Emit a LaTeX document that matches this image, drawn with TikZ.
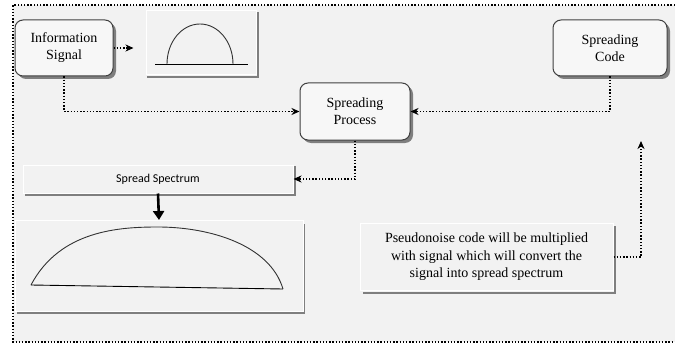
\documentclass[tikz,border=0pt]{standalone}
\usepackage{fontspec}
\setmainfont{Liberation Serif}
\newfontfamily\calib{Carlito}
\usetikzlibrary{arrows.meta,calc}
\definecolor{bgc}{HTML}{F2F2F2}
\definecolor{shd}{HTML}{7F7F7F}
\definecolor{edge}{HTML}{404040}
\begin{document}
\begin{tikzpicture}[x=1pt,y=-1pt,
  rbox/.style={draw=edge,line width=1pt,rounded corners=8pt,fill=bgc!60!white,
    minimum width=#1,minimum height=56pt,align=center,inner sep=0pt,
    font=\fontsize{14}{17}\selectfont},
  rbox/.default=98pt,
  flatbox/.style={draw=white,line width=1pt,fill=bgc,inner sep=0pt},
  dotc/.style={draw=black,line width=1.4pt,dash pattern=on 1.4pt off 1.8pt},
  tip/.style={-{Stealth[length=8pt,width=7pt,inset=2.5pt]}},
  shdline/.style={draw=shd,line width=2pt},
  curve/.style={draw=black!80,line width=0.9pt}]
\useasboundingbox (0,0) rectangle (675,345);
\fill[white] (0,0) rectangle (675,345);
\fill[bgc] (13,5) rectangle (675,342);
\draw[dotc] (675,5) -- (13,5) -- (13,342) -- (675,342);

% rounded boxes with shadows
\fill[shd,rounded corners=8pt] (18,23) rectangle (116,79);
\node[rbox] (info) at (64,48) {Information\\Signal};
\fill[shd,rounded corners=8pt] (303,86) rectangle (413,143);
\node[rbox=110pt,minimum height=57pt] (proc) at (355,111.5) {Spreading\\Process};
\fill[shd,rounded corners=8pt] (556,23) rectangle (670,79);
\node[rbox=114pt] (code) at (610,48) {Spreading\\Code};

% small signal box
\draw[shdline] (258,12) -- (258,77) -- (147,77);
\node[flatbox,minimum width=110pt,minimum height=64pt] (sig) at (201,43) {};
\draw[black,line width=0.8pt] (155,64) -- (248,64);
\draw[curve] (167,64) arc[start angle=180,end angle=360,x radius=33,y radius=40];

% spread spectrum label box
\draw[shdline] (295,166) -- (295,195) -- (25,195);
\node[flatbox,minimum width=270pt,minimum height=28pt,font=\calib\fontsize{12}{14}\selectfont] (ss) at (158,179) {Spread Spectrum};

% big spectrum box
\draw[shdline] (304,224) -- (304,313) -- (17,313);
\node[flatbox,minimum width=288pt,minimum height=91pt] (big) at (159,266) {};
\draw[curve] (31,285) .. controls (60,230) and (120,227) .. (158,227)
  .. controls (210,227) and (270,245) .. (283,289);
\draw[black,line width=0.9pt] (31,285) -- (283,289);

% note box
\draw[shdline] (615,226) -- (615,293) -- (363,293);
\node[flatbox,minimum width=253pt,minimum height=67pt,align=center,
  font=\fontsize{14}{17.5}\selectfont] (note) at (486.5,257)
  {Pseudonoise code will be multiplied\\with signal which will convert the\\signal into spread spectrum};

% connectors
\coordinate (up) at (641,141);
\draw[dotc,tip] (info.east) -- ++(20,0);
\draw[dotc,tip] (info.south) |- (proc.west);
\draw[dotc,tip] (code.south) |- (proc.east);
\draw[dotc,tip] (proc.south) |- (ss.east);
\draw[dotc,tip] (note.east) -| (up);
\draw[line width=2.6pt,-{Triangle[length=9pt,width=11pt]}] (ss.south) -- (big.north);
\end{tikzpicture}
\end{document}
